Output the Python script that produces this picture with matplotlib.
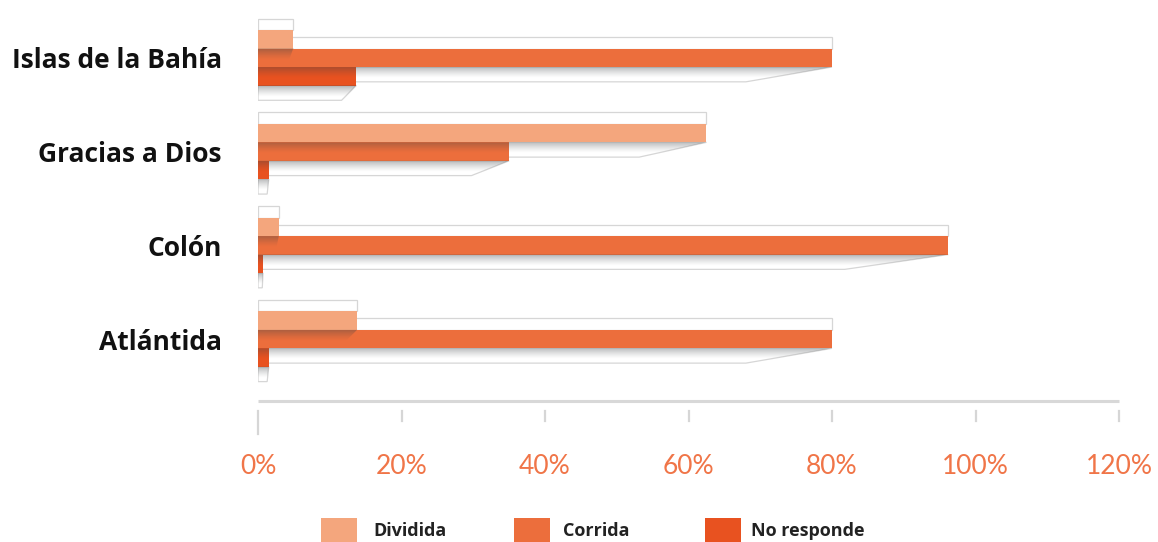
import numpy as np
import matplotlib
matplotlib.use('Agg')
import matplotlib.pyplot as plt
from matplotlib.patches import Rectangle, Polygon
import matplotlib.transforms as mtransforms

categories = ['Atlántida', 'Colón', 'Gracias a Dios', 'Islas de la Bahía']
dividida = [13.8, 2.9, 62.5, 4.9]
corrida = [80.0, 96.2, 35.0, 80.0]
no_responde = [1.5, 0.7, 1.5, 13.7]
series_names = ['Dividida', 'Corrida', 'No responde']
series_values = [dividida, corrida, no_responde]
colors = ['#F4A67D', '#EC6E3C', '#E85220']
xticks = [0, 20, 40, 60, 80, 100, 120]
xticklabels = ['0%', '20%', '40%', '60%', '80%', '100%', '120%']

W, H = 1158, 542
fig = plt.figure(figsize=(W / 100, H / 100), dpi=100)
ax = fig.add_axes([258 / W, (H - 401) / H, (1119 - 258) / W, 391 / H])

h = 0.197
offsets = [h, 0.0, -h]
y = np.arange(len(categories))

edge = '#d6d6d6'


def gradient_img(ax, x0, x1, y0, y1, clip, z, a_top=0.5, a_bot=0.0):
    n = 64
    alpha = np.linspace(a_top, a_bot, n) ** 1.3
    img = np.zeros((n, 1, 4))
    img[..., 0] = 0.25
    img[..., 1] = 0.27
    img[..., 2] = 0.28
    img[:, 0, 3] = alpha
    im = ax.imshow(img, extent=(x0, x1, y0, y1), origin='upper',
                   aspect='auto', interpolation='bilinear', zorder=z)
    im.set_clip_path(clip)


# 1) faces and floors (white boxes with light outlines), lowest layer
for si in [2, 1, 0]:
    vals = series_values[si]
    for ci in range(len(categories)):
        v = vals[ci]
        yc = y[ci] + offsets[si]
        top = yc + h / 2
        bot = yc - h / 2
        sh = 0.8 * h
        ax.add_patch(Rectangle((0, top), v, 0.62 * h, facecolor='white',
                               edgecolor=edge, lw=0.9, zorder=2))
        ax.add_patch(Polygon([(0, bot), (v, bot), (v * 0.85, bot - sh), (0, bot - sh)],
                             closed=True, facecolor='white', edgecolor=edge,
                             lw=0.9, zorder=2))

# 2) bars
for si in range(3):
    ax.barh(y + offsets[si], series_values[si], height=h, color=colors[si],
            zorder=4, linewidth=0, label=series_names[si])

# 3) soft shadows below each bar
for si in range(3):
    vals = series_values[si]
    for ci in range(len(categories)):
        v = vals[ci]
        yc = y[ci] + offsets[si]
        bot = yc - h / 2
        sh = 0.8 * h
        clip = Polygon([(0, bot), (v, bot), (v * 0.85, bot - sh), (0, bot - sh)],
                       closed=True, transform=ax.transData)
        gradient_img(ax, 0, v, bot - 0.6 * h, bot, clip, 5)

ax.set_xlim(0, 120)
ax.set_ylim(-0.66, 3.51)
for s in ax.spines.values():
    s.set_visible(False)
ax.set_yticks(y)
ax.set_yticklabels(categories, fontsize=19, fontweight='bold',
                   family=['Open Sans', 'DejaVu Sans'], color='#111111')
ax.tick_params(axis='y', length=0, pad=26)
ax.set_xticks(xticks)
ax.set_xticklabels(xticklabels, fontsize=19, color='#F07548',
                   family=['Lato', 'DejaVu Sans'])
ax.tick_params(axis='x', length=0, pad=38)

# axis line and detached tick marks
trans = mtransforms.blended_transform_factory(ax.transData, ax.transAxes)
ax.plot([0, 120], [0, 0], transform=trans, color='#d8d8d8', lw=2.2,
        clip_on=False, zorder=1, solid_capstyle='butt')
for t in xticks:
    yb = -33 / 391 if t == 0 else -20 / 391
    ax.plot([t, t], [-10 / 391, yb], transform=trans, color='#d6d6d6',
            lw=1.6, clip_on=False, zorder=1)

# legend (manual, figure coordinates)
leg_x = [321, 514, 705]
txt_x = [373, 563, 751]
for i, name in enumerate(series_names):
    fig.patches.append(Rectangle((leg_x[i] / W, 0), 36 / W, 24 / H,
                                 transform=fig.transFigure, facecolor=colors[i],
                                 edgecolor='none'))
    fig.text(txt_x[i] / W, 11 / H, name, fontsize=13, fontweight='bold',
             family=['Open Sans', 'DejaVu Sans'], color='#222222',
             va='center', ha='left')

fig.savefig('out.png', dpi=100)
